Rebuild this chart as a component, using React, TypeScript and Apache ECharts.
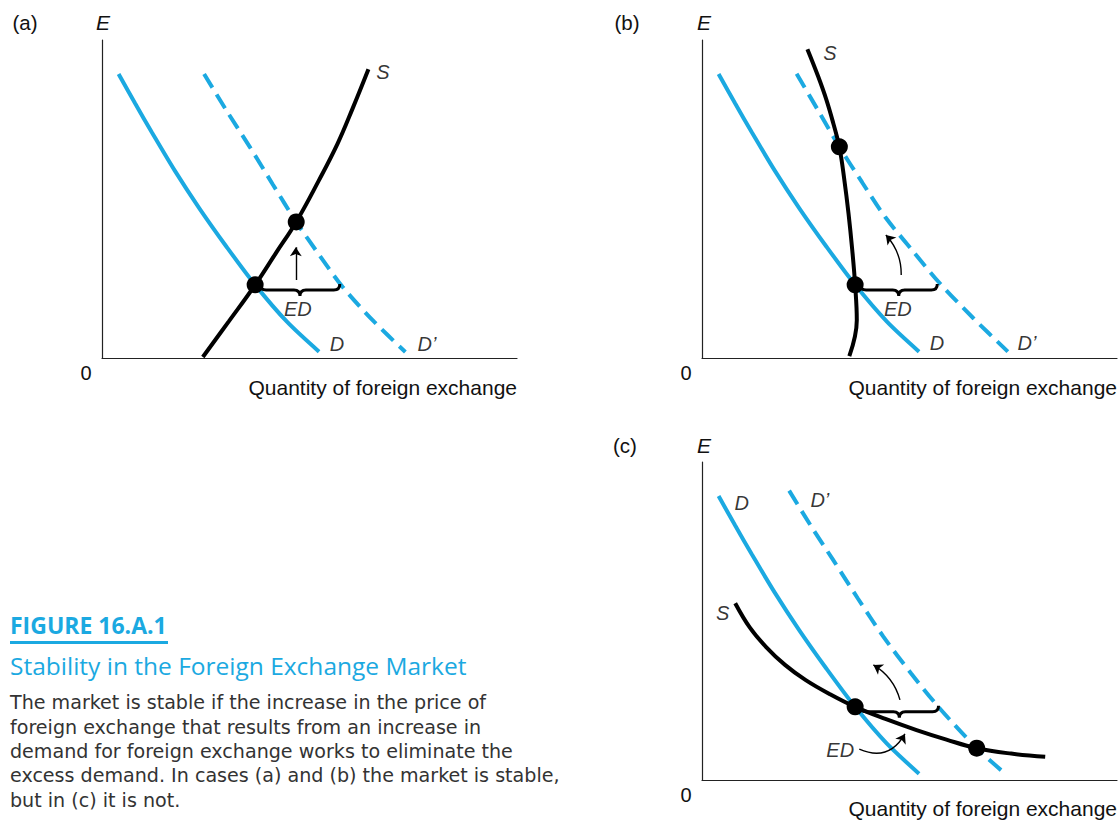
import React, { useEffect, useRef } from "react";
import * as echarts from "echarts";

const BLUE = "#1BA9E1";
const INK = "#111111";

// ---- data (axis units 0..100 on both axes) ----
const demandD = [[4.0, 89.3], [8.0, 80.0], [12.0, 71.0], [17.5, 59.0], [23.5, 47.0], [30.0, 35.0], [36.9, 23.0], [44.5, 11.5], [52.3, 2.0]];
const demandDPrimeA = [[24.6, 89.3], [30.0, 77.8], [35.6, 66.4], [41.2, 54.5], [46.8, 42.8], [52.4, 32.3], [58.0, 22.3], [65.5, 11.5], [73.1, 1.9]];
const supplyA = [[24.3, 0.3], [30.6, 11.6], [36.9, 23.0], [41.9, 33.0], [46.8, 42.8], [52.2, 55.7], [56.8, 67.5], [60.4, 78.5], [64.2, 90.8]];
const dotsA = [[36.9, 23.0], [46.8, 42.8]];

const demandDPrimeB = [[22.8, 89.4], [28.0, 77.8], [33.1, 66.4], [38.6, 55.2], [44.1, 44.4], [50.7, 33.8], [57.3, 23.5], [65.4, 12.5], [73.7, 2.0]];
const supplyB = [[25.4, 97.1], [28.0, 88.5], [30.0, 81.1], [31.7, 73.5], [33.1, 66.4], [34.3, 56.0], [35.3, 45.5], [36.2, 34.0], [36.9, 23.0], [37.3, 11.9], [35.5, 0.6]];
const dotsB = [[33.1, 66.4], [36.9, 23.0]];

const demandDPrimeC = [[21.0, 91.0], [26.2, 80.0], [31.6, 69.2], [37.6, 57.0], [43.7, 45.1], [50.4, 33.5], [57.3, 22.5], [66.2, 10.0], [73.4, 1.6]];
const supplyC = [[8.0, 55.6], [11.5, 48.0], [15.4, 41.9], [20.0, 36.2], [25.0, 31.4], [30.8, 27.0], [36.9, 23.0], [44.2, 19.2], [51.7, 15.7], [58.9, 12.7], [66.2, 10.0], [74.5, 8.3], [82.7, 7.3]];
const dotsC = [[36.9, 23.0], [66.2, 10.0]];

// braces: [xStart, xEnd, y]
const braceA = [[38.1, 57.3, 21.4]];
const braceB = [[38.1, 56.7, 21.4]];
const braceC = [[38.1, 57.0, 21.5]];

// arrows: [from, to, curveness]
const arrowsA = [[[46.7, 24.5], [46.7, 34.8], 0]];
const arrowsB = [[[48.0, 26.1], [44.3, 38.7], -0.2]];
const arrowsC = [[[47.7, 25.2], [41.3, 36.2], -0.2], [[37.9, 9.7], [48.9, 14.5], -0.45]];

// curve labels
const labelsA = [["S", 67.7, 89.9], ["D", 56.6, 4.4], ["D\u2019", 78.3, 4.4], ["ED", 47.2, 15.4]];
const labelsB = [["S", 30.8, 95.9], ["D", 56.6, 4.7], ["D\u2019", 78.3, 4.7], ["ED", 47.2, 15.4]];
const labelsC = [["D", 9.6, 87.0], ["D\u2019", 28.4, 88.1], ["S", 5.0, 52.4], ["ED", 33.3, 9.4]];

const panelNames = ["(a)", "(b)", "(c)"];
const axisTitleY = "E";
const axisTitleX = "Quantity of foreign exchange";
const originLabel = "0";

const figureNumber = "FIGURE 16.A.1";
const figureTitle = "Stability in the Foreign Exchange Market";
const captionLines = [
  "The market is stable if the increase in the price of",
  "foreign exchange that results from an increase in",
  "demand for foreign exchange works to eliminate the",
  "excess demand. In cases (a) and (b) the market is stable,",
  "but in (c) it is not.",
];

const grids = [
  { left: 102, top: 40, width: 415, height: 318 },
  { left: 702, top: 40, width: 415, height: 318 },
  { left: 702, top: 462, width: 415, height: 318 },
];

const LABEL_FONT = "Liberation Sans";
const CAPTION_FONT = "Open Sans";
const BODY_FONT = "DejaVu Sans";

function panelSeries(i: number, dPrime: number[][], supply: number[][], dots: number[][], brace: number[][], arrows: any[], labels: any[]) {
  const ax = { xAxisIndex: i, yAxisIndex: i };
  return [
    {
      type: "line", ...ax, data: demandD, smooth: 0.3, showSymbol: false, symbol: "none",
      lineStyle: { color: BLUE, width: 4 }, z: 2,
    },
    {
      type: "line", ...ax, data: dPrime, smooth: 0.3, showSymbol: false, symbol: "none",
      lineStyle: { color: BLUE, width: 4, type: [16, 8] }, z: 2,
    },
    {
      type: "line", ...ax, data: supply, smooth: 0.4, showSymbol: false, symbol: "none",
      lineStyle: { color: "#000", width: 4 }, z: 3,
    },
    {
      type: "custom", ...ax, data: brace, z: 4,
      renderItem: (_p: any, api: any) => {
        const a = api.coord([api.value(0), api.value(2)]);
        const b = api.coord([api.value(1), api.value(2)]);
        const x1 = a[0], x2 = b[0], y = a[1];
        const xm = (x1 + x2) / 2;
        const h = 6;
        const d = `M${x1},${y - h} Q${x1},${y} ${x1 + h},${y} L${xm - h},${y} Q${xm},${y} ${xm},${y + h} Q${xm},${y} ${xm + h},${y} L${x2 - h},${y} Q${x2},${y} ${x2},${y - h}`;
        return { type: "path", shape: { pathData: d }, style: { fill: "none", stroke: "#000", lineWidth: 3 } };
      },
    },
    {
      type: "lines", coordinateSystem: "cartesian2d", ...ax, z: 4,
      symbol: ["none", "arrow"], symbolSize: 9,
      lineStyle: { color: "#000", width: 1.4, opacity: 1 },
      data: arrows.map((a: any) => ({ coords: [a[0], a[1]], lineStyle: { curveness: a[2] } })),
    },
    {
      type: "scatter", ...ax, data: dots, symbolSize: 17, z: 5,
      itemStyle: { color: "#000", opacity: 1 },
    },
    {
      type: "scatter", ...ax, z: 6, symbolSize: 1,
      itemStyle: { color: "rgba(0,0,0,0)" },
      data: labels.map((l: any) => ({ name: l[0], value: [l[1], l[2]] })),
      label: {
        show: true, position: "inside", formatter: "{b}", color: "#000",
        fontFamily: LABEL_FONT, fontStyle: "italic", fontSize: 20,
      },
    },
  ];
}

function txt(text: string, x: number, y: number, opts: any = {}) {
  const align = opts.align || "left";
  const v = opts.v || "middle";
  const style: any = {
    text,
    fill: opts.fill || INK,
    fontSize: opts.size || 18,
    fontFamily: opts.family || LABEL_FONT,
    fontStyle: opts.italic ? "italic" : "normal",
    fontWeight: opts.bold ? "bold" : "normal",
    align, textAlign: align, verticalAlign: v, textVerticalAlign: v,
  };
  if (opts.lineHeight) style.lineHeight = opts.lineHeight;
  return { type: "text", x, y, silent: true, style };
}

export default function App() {
  const ref = useRef<HTMLDivElement>(null);
  useEffect(() => {
    if (!ref.current) return;
    const chart = echarts.init(ref.current, null, { renderer: "svg" });
    const axisBase = {
      type: "value", min: 0, max: 100,
      axisLine: { show: true, onZero: false, lineStyle: { color: "#222", width: 1.2 } },
      axisTick: { show: false }, axisLabel: { show: false }, splitLine: { show: false },
    };
    const xAxis = grids.map((_, i) => ({ ...axisBase, gridIndex: i }));
    const yAxis = grids.map((_, i) => ({ ...axisBase, gridIndex: i }));

    const panelText: any[] = [];
    const labelPos = [
      { pl: [25, 22], e: [103, 22], zero: [86, 373], q: [517, 387] },
      { pl: [627, 22], e: [704, 22], zero: [686, 373], q: [1117, 387] },
      { pl: [625, 445], e: [704, 445], zero: [686, 795], q: [1117, 808] },
    ];
    labelPos.forEach((p, i) => {
      panelText.push(txt(panelNames[i], p.pl[0], p.pl[1], { align: "center", size: 20.5 }));
      panelText.push(txt(axisTitleY, p.e[0], p.e[1], { align: "center", size: 21, italic: true }));
      panelText.push(txt(originLabel, p.zero[0], p.zero[1], { align: "center", size: 20 }));
      panelText.push(txt(axisTitleX, p.q[0], p.q[1], { align: "right", size: 21 }));
    });

    const LH = 24.3;
    const caption: any[] = [
      txt(figureNumber, 10, 625, { size: 23, bold: true, fill: BLUE, family: CAPTION_FONT }),
      { type: "rect", shape: { x: 10, y: 641, width: 158, height: 3 }, style: { fill: BLUE }, silent: true },
      txt(figureTitle, 10, 665, { size: 24.5, fill: BLUE, family: CAPTION_FONT }),
      txt(captionLines.join("\n"), 10, 703 - LH / 2, { size: 19.1, fill: "#333", family: BODY_FONT, v: "top", lineHeight: LH }),
    ];

    chart.setOption({
      animation: false,
      backgroundColor: "#fff",
      grid: grids.map((g) => ({ ...g, containLabel: false })),
      xAxis, yAxis,
      series: [
        ...panelSeries(0, demandDPrimeA, supplyA, dotsA, braceA, arrowsA, labelsA),
        ...panelSeries(1, demandDPrimeB, supplyB, dotsB, braceB, arrowsB, labelsB),
        ...panelSeries(2, demandDPrimeC, supplyC, dotsC, braceC, arrowsC, labelsC),
      ],
      graphic: { elements: [...panelText, ...caption] },
    });
    return () => chart.dispose();
  }, []);
  return <div ref={ref} style={{ position: "fixed", left: 0, top: 0, width: 1120, height: 821 }} />;
}
